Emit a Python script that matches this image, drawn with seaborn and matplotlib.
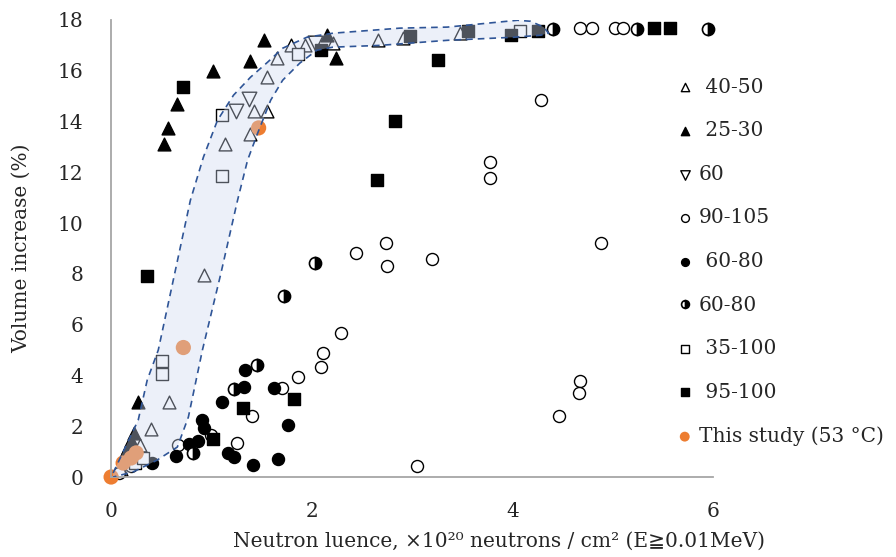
import numpy as np
import matplotlib
matplotlib.use("Agg")
import matplotlib.pyplot as plt
import seaborn as sns
from matplotlib.patches import Polygon

# DATA
tri_open_x = [0.10, 0.20, 0.29, 0.40, 0.58, 0.93, 1.13, 1.38, 1.42, 1.55, 1.55, 1.65, 1.79, 1.93, 2.21, 2.66, 2.91, 3.48]
tri_open_y = [0.30, 0.80, 1.25, 1.89, 2.95, 7.95, 13.1, 13.5, 14.4, 14.4, 15.75, 16.5, 17.0, 17.0, 17.1, 17.2, 17.3, 17.5]

tri_fill_x = [0.14, 0.17, 0.20, 0.23, 0.27, 0.53, 0.57, 0.66, 1.02, 1.38, 1.52, 2.15, 2.24]
tri_fill_y = [0.95, 1.20, 1.45, 1.75, 2.95, 13.1, 13.75, 14.7, 16.0, 16.4, 17.2, 17.4, 16.5]

tri_down_x = [1.24, 1.37, 2.03]
tri_down_y = [14.4, 14.9, 17.1]

circ_open_x = [0.08, 0.20, 0.67, 1.00, 1.25, 1.40, 1.70, 1.86, 2.09, 2.11, 2.29, 2.44, 2.74, 2.75, 3.20, 3.05,
               3.78, 3.78, 4.28, 4.88, 4.67, 4.66, 4.46, 4.67, 4.79, 5.02, 5.10]
circ_open_y = [0.15, 0.45, 1.25, 1.65, 1.35, 2.40, 3.50, 3.94, 4.33, 4.88, 5.67, 8.82, 9.21, 8.31, 8.58, 0.43,
               12.4, 11.77, 14.84, 9.21, 3.78, 3.31, 2.40, 17.7, 17.7, 17.7, 17.7]

circ_fill_x = [1.33, 1.32, 1.62, 1.11, 0.91, 0.93, 1.76, 0.87, 0.78, 0.65, 0.41, 1.16, 1.22, 1.41, 1.66]
circ_fill_y = [4.21, 3.54, 3.50, 2.95, 2.24, 1.93, 2.05, 1.42, 1.30, 0.83, 0.55, 0.94, 0.79, 0.47, 0.71]

circ_half_x = [0.82, 1.22, 1.45, 1.72, 2.03, 4.40, 5.24, 5.95]
circ_half_y = [0.94, 3.46, 4.41, 7.13, 8.43, 17.65, 17.65, 17.65]

sq_open_x = [0.24, 0.32, 0.51, 0.51, 1.11, 1.11, 1.86, 4.07]
sq_open_y = [0.55, 0.75, 4.06, 4.57, 11.85, 14.25, 16.65, 17.56]

sq_fill_x = [0.36, 0.72, 1.02, 1.31, 1.82, 2.09, 2.65, 2.83, 2.98, 3.26, 3.56, 3.98, 4.25, 5.41, 5.57]
sq_fill_y = [7.91, 15.35, 1.50, 2.72, 3.07, 16.8, 11.69, 14.02, 17.36, 16.42, 17.56, 17.40, 17.56, 17.68, 17.68]

study_x = [0.0, 0.12, 0.20, 0.25, 0.72, 1.47]
study_y = [0.0, 0.55, 0.75, 0.95, 5.10, 13.75]

# band outline (upper edge going out, lower edge coming back)
band_x = [0.02, 0.27, 0.36, 0.47, 0.79, 0.92, 1.06, 1.22, 1.39, 1.56, 1.71, 1.95, 2.21, 2.88, 3.35, 4.05, 4.18, 4.31, 4.36,
          4.28, 4.01, 3.35, 2.68, 2.21, 2.05, 1.88, 1.71, 1.59, 1.46, 1.36, 1.26, 1.09, 0.91, 0.77, 0.66, 0.46, 0.22, 0.02]
band_y = [0.16, 2.24, 3.82, 5.00, 10.9, 12.6, 14.05, 15.04, 15.75, 16.34, 16.89, 17.32, 17.48, 17.68, 17.72, 17.99, 17.95, 17.72, 17.48,
          17.40, 17.32, 17.20, 17.00, 16.93, 16.81, 16.30, 15.63, 14.84, 13.54, 12.48, 10.9, 7.95, 5.00, 2.36, 1.18, 0.67, 0.20, 0.00]

labels = [" 40-50", " 25-30", "60", "90-105", " 60-80", "60-80", " 35-100", " 95-100", "This study (53 \u00b0C)"]

SERIF = ["DejaVu Serif", "DejaVu Sans", "Noto Sans CJK JP"]

sns.set_style("white")
plt.rcParams["font.family"] = SERIF
plt.rcParams["font.size"] = 14

fig = plt.figure(figsize=(8.96, 5.57), dpi=100)
ax = fig.add_axes([0.124, 0.1436, 0.672, 0.8205])

common = dict(ax=ax, clip_on=False, linewidth=1, legend=False)
h = []
h.append(sns.scatterplot(x=tri_open_x, y=tri_open_y, marker="^", s=85, facecolor="white", edgecolor="black", **common).collections[-1])
h.append(sns.scatterplot(x=tri_fill_x, y=tri_fill_y, marker="^", s=85, color="black", edgecolor="black", **common).collections[-1])
h.append(sns.scatterplot(x=tri_down_x, y=tri_down_y, marker="v", s=110, facecolor="white", edgecolor="black", **common).collections[-1])
h.append(sns.scatterplot(x=circ_open_x, y=circ_open_y, marker="o", s=75, facecolor="white", edgecolor="black", **common).collections[-1])
h.append(sns.scatterplot(x=circ_fill_x, y=circ_fill_y, marker="o", s=75, color="black", edgecolor="black", **common).collections[-1])
half, = ax.plot(circ_half_x, circ_half_y, linestyle="none", marker="o", markersize=8.7,
                fillstyle="right", markerfacecolor="black", markerfacecoloralt="white",
                markeredgecolor="black", markeredgewidth=1.2, clip_on=False)
h.append(half)
h.append(sns.scatterplot(x=sq_open_x, y=sq_open_y, marker="s", s=70, facecolor="white", edgecolor="black", **common).collections[-1])
h.append(sns.scatterplot(x=sq_fill_x, y=sq_fill_y, marker="s", s=70, color="black", edgecolor="black", **common).collections[-1])
h.append(sns.scatterplot(x=study_x, y=study_y, marker="o", s=120, color="#ED7D31", edgecolor="none", ax=ax,
                         clip_on=False, legend=False).collections[-1])

# shaded band drawn over the points
band = Polygon(np.column_stack([band_x, band_y]), closed=True, facecolor="#cdd8f0", alpha=0.38,
               edgecolor="none", zorder=5)
ax.add_patch(band)
ax.plot(band_x, band_y, color="#2F5597", linestyle=(0, (4, 3)), linewidth=1.2, zorder=6)

ax.set_xlim(0, 6)
ax.set_ylim(0, 18)
ax.set_xticks([0, 2, 4, 6])
ax.set_yticks(np.arange(0, 19, 2))
for s in ["top", "right"]:
    ax.spines[s].set_visible(False)
for s in ["left", "bottom"]:
    ax.spines[s].set_color("#a6a6a6")
    ax.spines[s].set_linewidth(1.3)
ax.tick_params(axis="x", direction="out", length=8, width=1.2, color="#a6a6a6", labelsize=14.5, pad=10)
ax.tick_params(axis="y", length=0, labelsize=14.5, pad=20)

ax.set_ylabel("Volume increase (%)", fontsize=14.5)
ax.yaxis.set_label_coords(-0.133, 0.5)
ax.set_xlabel("Neutron luence, \u00d710\u00b2\u2070 neutrons / cm\u00b2 (E\u22670.01MeV)", fontsize=14.5)
ax.xaxis.set_label_coords(0.645, -0.12)

leg = fig.legend(h, labels, loc="upper left", bbox_to_anchor=(0.735, 0.893), frameon=False,
                 fontsize=14.5, markerscale=0.65, handlelength=0.8, handletextpad=0.3, labelspacing=1.22)

fig.savefig("out.png", dpi=100)
